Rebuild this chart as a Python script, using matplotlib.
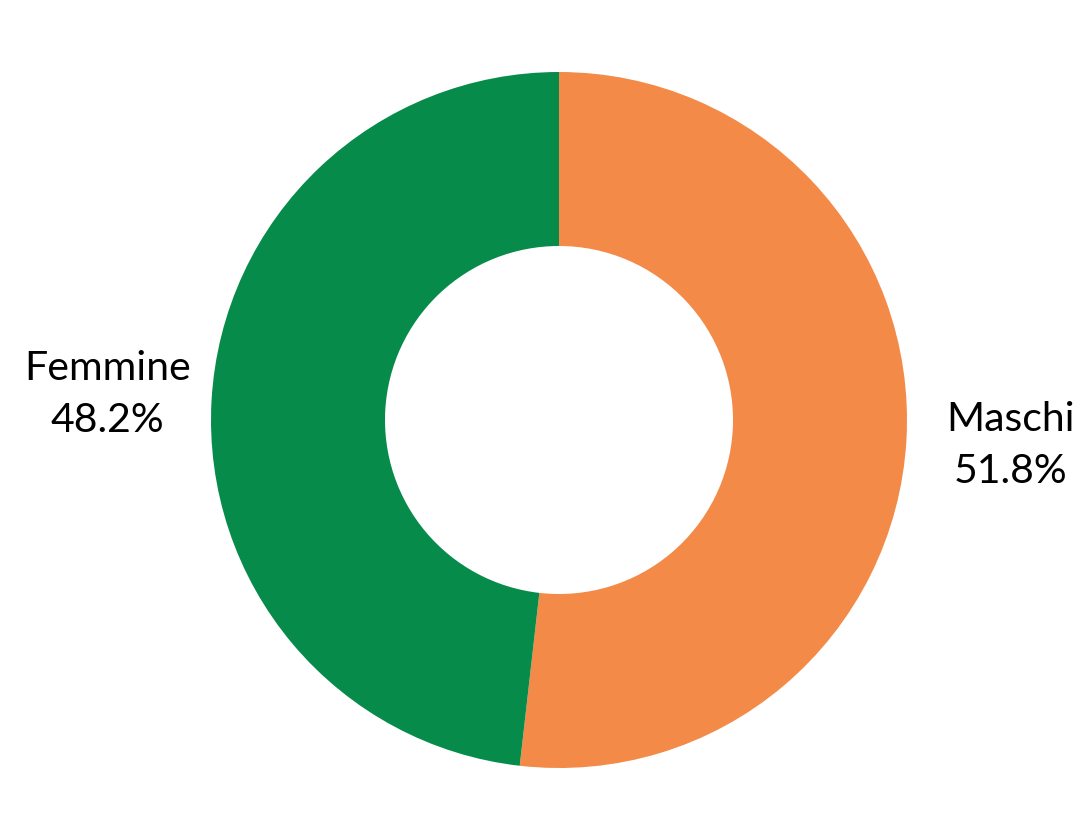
import numpy as np
import matplotlib
matplotlib.use("Agg")
import matplotlib.pyplot as plt

categories = ["Maschi", "Femmine"]
values = [51.8, 48.2]
colors = ["#F38A48", "#068B4B"]

W, H = 1080, 833
cx, cy, R = 559, 420, 348

fig = plt.figure(figsize=(W / 100, H / 100), dpi=100)
ax = fig.add_axes([0, 0, 1, 1])
wedges, _ = ax.pie(values, colors=colors, startangle=90, counterclock=False,
                   radius=1.0, wedgeprops=dict(width=0.5, linewidth=0))
ax.set_xlim(-cx / R, (W - cx) / R)
ax.set_ylim(-(H - cy) / R, cy / R)
ax.set_aspect("equal")
ax.axis("off")

for w, cat, v in zip(wedges, categories, values):
    ang = np.deg2rad((w.theta1 + w.theta2) / 2)
    d = 1.30
    x, y = d * np.cos(ang), d * np.sin(ang)
    ax.text(x, y, f"{cat}\n{v:.1f}%", ha="center", va="center",
            fontsize=29.5, family=["Lato", "DejaVu Sans"], linespacing=1.5,
            color="black")

fig.savefig("out.png", dpi=100)
